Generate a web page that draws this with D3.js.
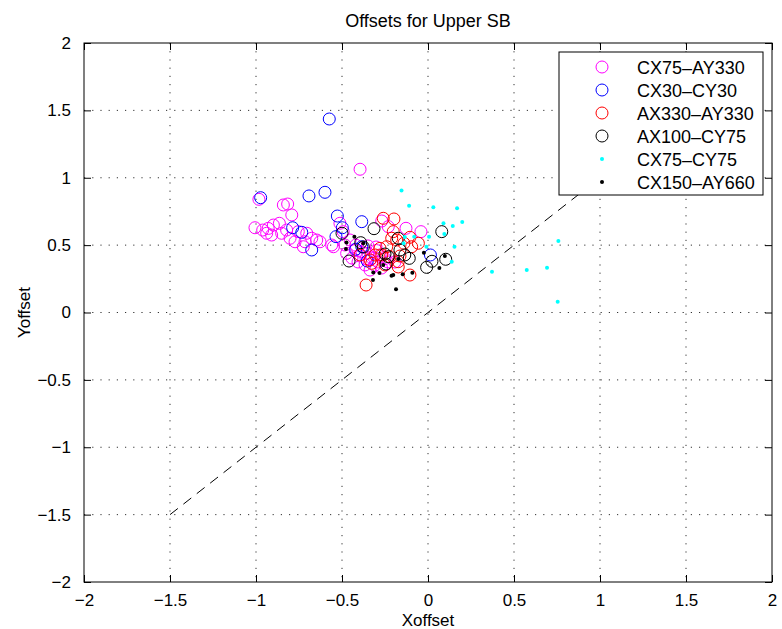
<!DOCTYPE html>
<html>
<head>
<meta charset="utf-8">
<script src="https://cdn.jsdelivr.net/npm/d3@7"></script>
<style>
  body { margin: 0; background: #fff; }
  text { font-family: "Liberation Sans", Arial, sans-serif; fill: #000; }
</style>
</head>
<body>
<div id="chart"></div>
<script>
// series names and marker styles, in the order matlab drew them
var seriesNames = ["CX75\u2013AY330", "CX30\u2013CY30", "AX330\u2013AY330", "AX100\u2013CY75", "CX75\u2013CY75", "CX150\u2013AY660"];
var seriesColors = ["#ff00ff", "#0000ff", "#ff0000", "#000000", "#00ffff", "#000000"];
var seriesKinds = ["circle", "circle", "circle", "circle", "dot", "dot"];

var tickValues = [-2, -1.5, -1, -0.5, 0, 0.5, 1, 1.5, 2];
var diagonal = [[-1.5, -1.5], [1.5, 1.5]];

// points, [xoffset, yoffset]
var cx75ay330 = [
  [-0.395, 1.063], [-0.983, 0.840], [-0.841, 0.798], [-0.816, 0.805], [-0.792, 0.724],
  [-1.006, 0.629], [-0.961, 0.612], [-0.929, 0.624], [-0.899, 0.649], [-0.864, 0.662],
  [-0.909, 0.575], [-0.938, 0.588], [-0.851, 0.588], [-0.822, 0.612], [-0.802, 0.551],
  [-0.754, 0.600], [-0.705, 0.588], [-0.715, 0.525], [-0.676, 0.551], [-0.647, 0.538],
  [-0.628, 0.525], [-0.725, 0.488], [-0.773, 0.525], [-0.560, 0.501], [-0.512, 0.662],
  [-0.493, 0.600], [-0.473, 0.439], [-0.550, 0.488], [-0.231, 0.637], [-0.041, 0.600],
  [-0.269, 0.679], [-0.128, 0.625], [-0.453, 0.538], [-0.424, 0.464], [-0.384, 0.449],
  [-0.349, 0.494], [-0.326, 0.404], [-0.291, 0.375], [-0.366, 0.353], [-0.407, 0.375],
  [-0.337, 0.315], [-0.279, 0.427], [-0.233, 0.375], [-0.192, 0.375], [-0.302, 0.486],
  [-0.442, 0.404], [-0.483, 0.501], [-0.400, 0.420], [-0.350, 0.440], [-0.310, 0.350],
  [-0.270, 0.330], [-0.360, 0.400], [-0.300, 0.460], [-0.420, 0.500], [-0.250, 0.400]
];
var cx30cy30 = [
  [-0.574, 1.436], [-0.973, 0.852], [-0.692, 0.865], [-0.599, 0.892], [-0.787, 0.629],
  [-0.734, 0.595], [-0.676, 0.464], [-0.527, 0.716], [-0.498, 0.629], [-0.535, 0.563],
  [-0.385, 0.674], [-0.385, 0.488], [-0.353, 0.382], [0.014, 0.427], [-0.420, 0.470]
];
var ax330ay330 = [
  [-0.260, 0.699], [-0.198, 0.694], [-0.202, 0.600], [-0.360, 0.204], [-0.105, 0.278],
  [-0.173, 0.338], [-0.211, 0.551], [-0.182, 0.538], [-0.140, 0.514], [-0.095, 0.488],
  [-0.056, 0.514], [-0.105, 0.558], [-0.240, 0.488], [-0.279, 0.476], [-0.308, 0.427],
  [-0.269, 0.427], [-0.221, 0.414], [-0.337, 0.390], [-0.327, 0.365], [-0.163, 0.419],
  [-0.173, 0.377], [-0.395, 0.427], [-0.250, 0.353]
];
var ax100cy75 = [
  [-0.500, 0.588], [-0.459, 0.382], [-0.391, 0.518], [-0.376, 0.486], [-0.314, 0.622],
  [-0.244, 0.360], [-0.231, 0.414], [-0.250, 0.434], [-0.173, 0.551], [-0.163, 0.464],
  [-0.109, 0.402], [-0.008, 0.335], [0.023, 0.380], [0.103, 0.395], [0.080, 0.600],
  [-0.135, 0.427]
];
var cx75cy75 = [
  [-0.154, 0.905], [-0.110, 0.793], [0.031, 0.781], [0.169, 0.774], [0.090, 0.662],
  [0.144, 0.642], [0.199, 0.672], [0.095, 0.583], [0.006, 0.563], [-0.080, 0.563],
  [-0.142, 0.514], [-0.009, 0.488], [0.154, 0.488], [0.138, 0.377], [0.372, 0.303],
  [0.574, 0.315], [0.692, 0.332], [0.758, 0.531], [0.754, 0.080], [-0.135, 0.561]
];
var cx150ay660 = [
  [-0.474, 0.519], [-0.477, 0.471], [-0.428, 0.563], [-0.376, 0.514], [-0.318, 0.297],
  [-0.282, 0.293], [-0.320, 0.241], [-0.212, 0.273], [-0.202, 0.278], [-0.147, 0.283],
  [-0.091, 0.295], [-0.186, 0.172], [-0.024, 0.444], [0.066, 0.330], [0.098, 0.419],
  [-0.173, 0.397], [-0.260, 0.352]
];
var allSeries = [cx75ay330, cx30cy30, ax330ay330, ax100cy75, cx75cy75, cx150ay660];

var width = 782, height = 629;
var margin = {left: 84, right: 10, top: 43, bottom: 47};

var svg = d3.select("#chart")
        .append("svg")
        .attr("width", width)
        .attr("height", height);

var x = d3.scaleLinear().domain([-2, 2]).range([margin.left, width - margin.right]);
var y = d3.scaleLinear().domain([-2, 2]).range([height - margin.bottom, margin.top]);

var fmt = function(d) { return d < 0 ? "\u2212" + Math.abs(d) : "" + d; };

// dotted grid
var grid = svg.append("g");
grid.selectAll("line.gx")
        .data(tickValues.slice(1, -1))
        .enter().append("line")
        .attr("x1", d => x(d)).attr("x2", d => x(d))
        .attr("y1", y(2)).attr("y2", y(-2))
        .attr("stroke", "#333").attr("stroke-width", 1)
        .attr("stroke-dasharray", "1.2,7");
grid.selectAll("line.gy")
        .data(tickValues.slice(1, -1))
        .enter().append("line")
        .attr("y1", d => y(d)).attr("y2", d => y(d))
        .attr("x1", x(-2)).attr("x2", x(2))
        .attr("stroke", "#333").attr("stroke-width", 1)
        .attr("stroke-dasharray", "1.2,7");

// axes with inward ticks on every side
var tickLen = 7;
svg.append("g").attr("transform", "translate(0," + y(-2) + ")")
        .call(d3.axisBottom(x).tickValues(tickValues).tickSizeInner(-tickLen).tickSizeOuter(0).tickPadding(tickLen + 5).tickFormat(fmt));
svg.append("g").attr("transform", "translate(0," + y(2) + ")")
        .call(d3.axisTop(x).tickValues(tickValues).tickSizeInner(-tickLen).tickSizeOuter(0).tickFormat(""));
svg.append("g").attr("transform", "translate(" + x(-2) + ",0)")
        .call(d3.axisLeft(y).tickValues(tickValues).tickSizeInner(-tickLen).tickSizeOuter(0).tickPadding(tickLen + 6).tickFormat(fmt));
svg.append("g").attr("transform", "translate(" + x(2) + ",0)")
        .call(d3.axisRight(y).tickValues(tickValues).tickSizeInner(-tickLen).tickSizeOuter(0).tickFormat(""));
svg.selectAll(".domain").remove();
svg.selectAll(".tick line").attr("stroke", "#000");
svg.selectAll(".tick text").style("font-size", "17px").attr("fill", "#000");

svg.append("rect")
        .attr("x", x(-2)).attr("y", y(2))
        .attr("width", x(2) - x(-2)).attr("height", y(-2) - y(2))
        .attr("fill", "none").attr("stroke", "#000").attr("stroke-width", 1);

// y = x reference line
svg.append("path")
        .attr("d", d3.line().x(d => x(d[0])).y(d => y(d[1]))(diagonal))
        .attr("stroke", "#000").attr("stroke-width", 1)
        .attr("stroke-dasharray", "10,7").attr("fill", "none");

// the markers
var plot = svg.append("g");
allSeries.forEach(function(pts, i) {
    var g = plot.append("g");
    if (seriesKinds[i] == "circle") {
        g.selectAll("circle").data(pts).enter().append("circle")
                .attr("cx", d => x(d[0])).attr("cy", d => y(d[1]))
                .attr("r", 6)
                .attr("fill", "none")
                .attr("stroke", seriesColors[i]).attr("stroke-width", 1);
    } else {
        g.selectAll("circle").data(pts).enter().append("circle")
                .attr("cx", d => x(d[0])).attr("cy", d => y(d[1]))
                .attr("r", 2)
                .attr("fill", seriesColors[i]);
    }
});

// title and labels
svg.append("text")
        .attr("x", (x(-2) + x(2)) / 2).attr("y", 27)
        .attr("text-anchor", "middle")
        .style("font-size", "18px")
        .text("Offsets for Upper SB");
svg.append("text")
        .attr("x", (x(-2) + x(2)) / 2).attr("y", 626)
        .attr("text-anchor", "middle")
        .style("font-size", "17px")
        .text("Xoffset");
svg.append("text")
        .attr("transform", "translate(30," + ((y(-2) + y(2)) / 2) + ") rotate(-90)")
        .attr("text-anchor", "middle")
        .style("font-size", "17px")
        .text("Yoffset");

// legend
var lx = 559, ly = 52, lw = 204, lh = 143;
var legend = svg.append("g");
legend.append("rect")
        .attr("x", lx).attr("y", ly).attr("width", lw).attr("height", lh)
        .attr("fill", "#fff").attr("stroke", "#000").attr("stroke-width", 1);
seriesNames.forEach(function(name, i) {
    var cy = ly + 15 + i * 23;
    if (seriesKinds[i] == "circle") {
        legend.append("circle").attr("cx", lx + 43).attr("cy", cy).attr("r", 6)
                .attr("fill", "none").attr("stroke", seriesColors[i]).attr("stroke-width", 1);
    } else {
        legend.append("circle").attr("cx", lx + 43).attr("cy", cy).attr("r", 2)
                .attr("fill", seriesColors[i]);
    }
    legend.append("text")
            .attr("x", lx + 78).attr("y", cy + 6.5)
            .style("font-size", "18px")
            .text(name);
});
</script>
</body>
</html>
